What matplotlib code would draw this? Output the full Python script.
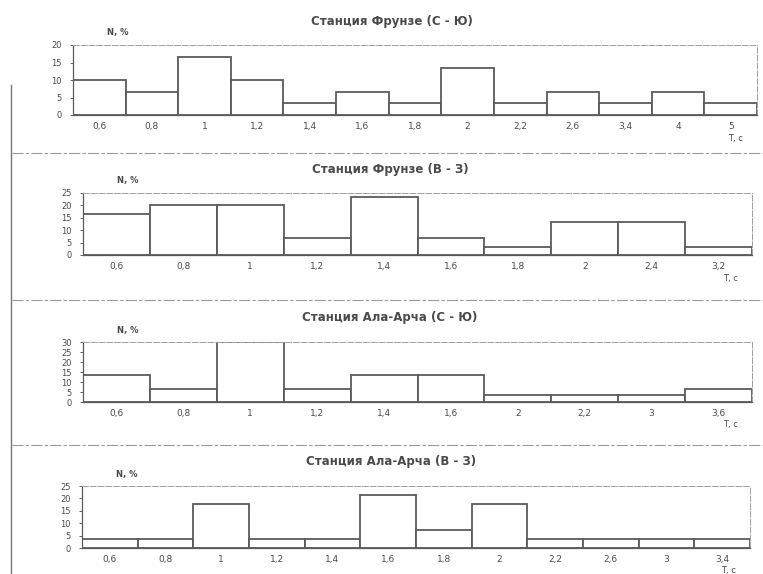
import matplotlib
matplotlib.use("Agg")
import matplotlib.pyplot as plt
from matplotlib.lines import Line2D
import numpy as np

W, H = 763, 574

# panel data
titles = ["Станция Фрунзе (С - Ю)", "Станция Фрунзе (В - З)",
          "Станция Ала-Арча (С - Ю)", "Станция Ала-Арча (В - З)"]

cats1 = ["0,6", "0,8", "1", "1,2", "1,4", "1,6", "1,8", "2", "2,2", "2,6", "3,4", "4", "5"]
vals1 = [10, 6.7, 16.7, 10, 3.3, 6.7, 3.3, 13.3, 3.3, 6.7, 3.3, 6.7, 3.3]

cats2 = ["0,6", "0,8", "1", "1,2", "1,4", "1,6", "1,8", "2", "2,4", "3,2"]
vals2 = [16.7, 20, 20, 6.7, 23.3, 6.7, 3.3, 13.3, 13.3, 3.3]

cats3 = ["0,6", "0,8", "1", "1,2", "1,4", "1,6", "2", "2,2", "3", "3,6"]
vals3 = [13.3, 6.7, 30, 6.7, 13.3, 13.3, 3.3, 3.3, 3.3, 6.7]

cats4 = ["0,6", "0,8", "1", "1,2", "1,4", "1,6", "1,8", "2", "2,2", "2,6", "3", "3,4"]
vals4 = [3.6, 3.6, 17.9, 3.6, 3.6, 21.4, 7.1, 17.9, 3.6, 3.6, 3.6, 3.6]

ymaxes = [20, 25, 30, 25]
ylabel = "N, %"
xlabel = "T, с"

# layout in pixels: left, top, right, bottom of each plot area
boxes = [(73, 45, 757, 115), (83, 193, 752, 255),
         (83, 342, 752, 402), (82, 486, 750, 548)]
title_y = [21, 170, 317, 462]
title_x = [392, 390, 390, 391]

line_c = "#5a5a5a"
text_c = "#4a4a4a"

fig = plt.figure(figsize=(W / 100, H / 100), dpi=100)

data = [(cats1, vals1), (cats2, vals2), (cats3, vals3), (cats4, vals4)]
for i, (cats, vals) in enumerate(data):
    l, t, r, b = boxes[i]
    ax = fig.add_axes([l / W, 1 - b / H, (r - l) / W, (b - t) / H])
    x = np.arange(len(cats))
    ax.bar(x, vals, width=1.0, color="white", edgecolor=line_c, linewidth=1.3)
    ax.set_xlim(-0.5, len(cats) - 0.5)
    ax.set_ylim(0, ymaxes[i])
    ax.set_yticks(np.arange(0, ymaxes[i] + 1, 5))
    ax.set_xticks(x)
    ax.set_xticklabels(cats)
    ax.tick_params(axis="x", length=0, pad=5, labelsize=6.5, colors=text_c)
    ax.tick_params(axis="y", length=2, pad=6, labelsize=6, colors=text_c, width=0.6)
    for side in ["top", "right"]:
        ax.spines[side].set_color("#a0a0a0")
        ax.spines[side].set_linewidth(0.7)
        ax.spines[side].set_linestyle((0, (6, 2)))
    for side in ["left", "bottom"]:
        ax.spines[side].set_color(line_c)
        ax.spines[side].set_linewidth(0.9)

    fig.text(title_x[i] / W, 1 - title_y[i] / H, titles[i], ha="center", va="center",
             fontsize=8.5, fontweight="bold", color=text_c)
    fig.text((l + 45) / W, 1 - (t - 12) / H, ylabel, ha="center", va="center",
             fontsize=6, fontweight="bold", color=text_c)
    fig.text((r - 22) / W, 1 - (b + 23) / H, xlabel, ha="center", va="center",
             fontsize=6, color=text_c)

# scan page decorations: separators between panels and left edge line
for yy in [153, 300, 445]:
    fig.add_artist(Line2D([12 / W, 1.0], [1 - yy / H, 1 - yy / H], color="#9a9a9a",
                          lw=0.8, linestyle=(0, (10, 2, 3, 2))))
fig.add_artist(Line2D([11 / W, 11 / W], [1 - 85 / H, 0.0], color="#777777", lw=1.0))

fig.savefig("out.png", dpi=100, facecolor="white")
